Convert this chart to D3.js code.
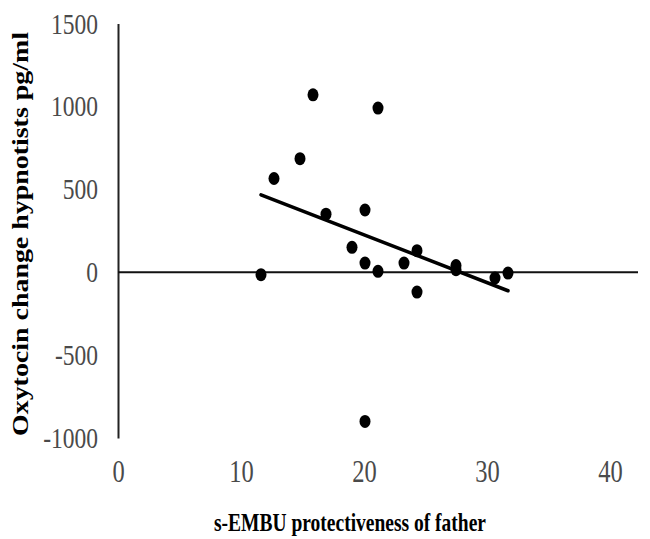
<!DOCTYPE html>
<html lang="en">
  <head>
    <title>Oxytocin scatter</title>
    <meta charset="utf-8" />
    <script src="https://d3js.org/d3.v7.min.js"></script>
    <style>
      body { margin: 0; background: #ffffff; }
    </style>
  </head>
  <body>
    <svg width="650" height="539" xmlns="http://www.w3.org/2000/svg" id="target"></svg>
    <script>
        // s-EMBU protectiveness of father (x) vs oxytocin change (y)
        const protectiveness = [15, 20, 14, 12, 16, 19, 18, 19, 20, 22, 23, 23, 11, 26, 26, 29, 30, 19];
        const oxytocinChange = [1070, 990, 685, 565, 350, 375, 150, 55, 5, 55, 130, -120, -15, 40, 15, -35, -5, -900];
        const xTicks = [0, 10, 20, 30, 40];
        const yTicks = [-1000, -500, 0, 500, 1000, 1500];

        const svg = d3.select("#target");

        const x = d3.scaleLinear().domain([0, 40]).range([118, 638]);
        // tick labels sit a bit tighter than the plot in the source figure
        const xLab = d3.scaleLinear().domain([0, 40]).range([118, 610]);
        const y = d3.scaleLinear().domain([-1000, 1500]).range([438, 23.5]);

        const serif = "'Liberation Serif', 'Times New Roman', serif";
        const fmt = d => (d < 0 ? "-" + Math.abs(d) : "" + d);
        const stretch = 1.27; // source figure is squeezed horizontally

        // y axis line + labels
        const yAxis = svg.append("g")
          .attr("transform", "translate(" + x(0) + ",0)")
          .call(d3.axisLeft(y).tickValues(yTicks).tickSize(0).tickPadding(20).tickFormat(fmt));
        yAxis.select(".domain").attr("stroke", "#222").attr("stroke-width", 2);
        yAxis.selectAll("text")
          .attr("font-family", serif)
          .attr("font-size", 23.5)
          .attr("fill", "#4a4a4a")
          .attr("transform", "scale(1," + stretch + ")");

        // horizontal zero line
        svg.append("line")
          .attr("x1", x(0)).attr("x2", x(40))
          .attr("y1", y(0)).attr("y2", y(0))
          .attr("stroke", "#111")
          .attr("stroke-width", 2);

        // x tick labels along the bottom
        const xAxis = svg.append("g")
          .attr("transform", "translate(0,472)")
          .call(d3.axisBottom(xLab).tickValues(xTicks).tickSize(0).tickPadding(0).tickFormat(fmt));
        xAxis.select(".domain").remove();
        xAxis.selectAll("text")
          .attr("y", 0)
          .attr("dy", "0.33em")
          .attr("font-family", serif)
          .attr("font-size", 24.5)
          .attr("fill", "#4a4a4a")
          .attr("transform", "scale(1," + stretch + ")");

        // linear trend line (least squares)
        const n = protectiveness.length;
        const mx = d3.mean(protectiveness);
        const my = d3.mean(oxytocinChange);
        let sxy = 0, sxx = 0;
        for (let i = 0; i < n; i++){
          sxy += (protectiveness[i] - mx) * (oxytocinChange[i] - my);
          sxx += (protectiveness[i] - mx) * (protectiveness[i] - mx);
        }
        const slope = sxy / sxx;
        const icpt = my - slope * mx;
        const [x0, x1] = d3.extent(protectiveness);
        svg.append("line")
          .attr("x1", x(x0)).attr("y1", y(icpt + slope * x0))
          .attr("x2", x(x1)).attr("y2", y(icpt + slope * x1))
          .attr("stroke", "#000")
          .attr("stroke-width", 3.5)
          .attr("stroke-linecap", "round");

        // points
        svg.selectAll("ellipse.dot")
          .data(protectiveness.map((d, i) => ({x: d, y: oxytocinChange[i]})))
          .enter()
          .append("ellipse")
          .attr("class", "dot")
          .attr("cx", d => x(d.x))
          .attr("cy", d => y(d.y))
          .attr("rx", 5.5)
          .attr("ry", 6.5)
          .attr("fill", "#000");

        // axis titles
        svg.append("text")
          .attr("transform", "translate(350,531) scale(1," + stretch + ")")
          .attr("text-anchor", "middle")
          .attr("font-family", serif)
          .attr("font-weight", "bold")
          .attr("font-size", 20)
          .attr("textLength", 272)
          .attr("lengthAdjust", "spacingAndGlyphs")
          .text("s-EMBU protectiveness of father");

        svg.append("text")
          .attr("transform", "translate(28,234) rotate(-90)")
          .attr("text-anchor", "middle")
          .attr("font-family", serif)
          .attr("font-weight", "bold")
          .attr("font-size", 23)
          .attr("textLength", 404)
          .attr("lengthAdjust", "spacingAndGlyphs")
          .text("Oxytocin change hypnotists pg/ml");
    </script>
</body>
</html>
